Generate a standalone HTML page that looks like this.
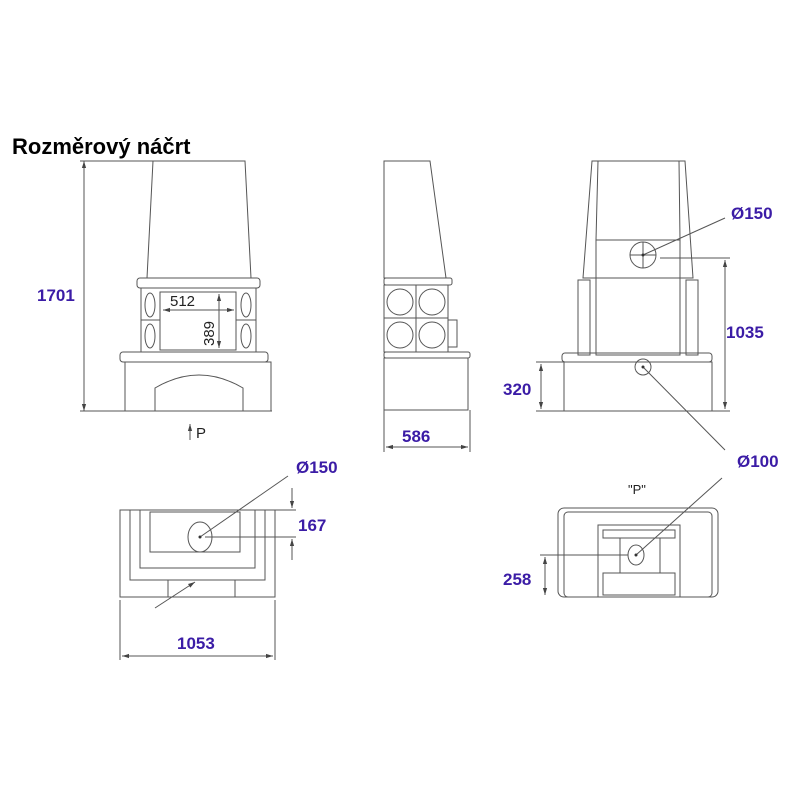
<!DOCTYPE html>
<html><head><meta charset="utf-8"><style>
body{margin:0;background:#fff}
svg{display:block}
.d{font-family:"Liberation Sans",sans-serif;font-weight:bold;font-size:17px;fill:#3b1ca6}
</style></head><body>
<svg width="800" height="800" viewBox="0 0 800 800" xmlns="http://www.w3.org/2000/svg">
<defs>
<marker id="a" viewBox="0 0 10 10" refX="10" refY="5" markerWidth="7" markerHeight="7" orient="auto-start-reverse"><path d="M0,2L10,5L0,8z" fill="#444"/></marker>
</defs>
<rect width="800" height="800" fill="#fff"/>
<text x="12" y="154" font-family="Liberation Sans,sans-serif" font-weight="bold" font-size="22" fill="#000">Rozměrový náčrt</text>
<g fill="none" stroke="#555" stroke-width="1">
<path d="M153,161 L245,161 L251,278 L147,278 Z"/>
<rect x="137" y="278" width="123" height="10" rx="3"/>
<rect x="141" y="288" width="115" height="64"/>
<rect x="160" y="292" width="76" height="58"/>
<line x1="141" y1="320" x2="160" y2="320"/><line x1="236" y1="320" x2="256" y2="320"/>
<ellipse cx="150" cy="305" rx="5" ry="12"/><ellipse cx="150" cy="336" rx="5" ry="12"/>
<ellipse cx="246" cy="305" rx="5" ry="12"/><ellipse cx="246" cy="336" rx="5" ry="12"/>
<rect x="120" y="352" width="148" height="10" rx="3"/>
<rect x="125" y="362" width="146" height="49"/>
<path d="M155,411 L155,388 Q199,362 243,388 L243,411"/>
<line x1="80" y1="411" x2="272" y2="411"/>
<line x1="80" y1="161" x2="153" y2="161"/>
<line x1="84" y1="161" x2="84" y2="411" marker-start="url(#a)" marker-end="url(#a)"/>
<line x1="163" y1="310" x2="234" y2="310" marker-start="url(#a)" marker-end="url(#a)"/>
<line x1="219" y1="294" x2="219" y2="348" marker-start="url(#a)" marker-end="url(#a)"/>
<line x1="190" y1="440" x2="190" y2="424" marker-end="url(#a)"/>
<path d="M384,161 L430,161 L446,278 L384,278 Z"/>
<rect x="384" y="278" width="68" height="7" rx="2"/>
<rect x="384" y="285" width="64" height="67"/>
<line x1="416" y1="285" x2="416" y2="352"/><line x1="384" y1="318" x2="448" y2="318"/>
<circle cx="400" cy="302" r="13"/><circle cx="432" cy="302" r="13"/>
<circle cx="400" cy="335" r="13"/><circle cx="432" cy="335" r="13"/>
<rect x="448" y="320" width="9" height="27"/>
<rect x="384" y="352" width="86" height="6" rx="2"/>
<rect x="384" y="358" width="84" height="52"/>
<line x1="384" y1="410" x2="384" y2="452"/><line x1="470" y1="410" x2="470" y2="452"/>
<line x1="386" y1="447" x2="468" y2="447" marker-start="url(#a)" marker-end="url(#a)"/>
<path d="M592,161 L685,161 L693,278 L583,278 Z"/>
<path d="M598,161 L596,240 L680,240 L679,161"/>
<rect x="596" y="240" width="84" height="115"/>
<circle cx="643" cy="255" r="13"/><line x1="630" y1="255" x2="656" y2="255"/><line x1="643" y1="242" x2="643" y2="268"/>
<rect x="578" y="280" width="12" height="75"/><rect x="686" y="280" width="12" height="75"/>
<rect x="562" y="353" width="150" height="9" rx="3"/>
<rect x="564" y="362" width="148" height="49"/>
<circle cx="643" cy="367" r="8"/>
<line x1="660" y1="258" x2="730" y2="258"/>
<line x1="712" y1="411" x2="730" y2="411"/>
<line x1="725" y1="260" x2="725" y2="409" marker-start="url(#a)" marker-end="url(#a)"/>
<line x1="536" y1="362" x2="564" y2="362"/><line x1="536" y1="411" x2="564" y2="411"/>
<line x1="541" y1="364" x2="541" y2="409" marker-start="url(#a)" marker-end="url(#a)"/>
<line x1="643" y1="255" x2="725" y2="218"/>
<line x1="643" y1="367" x2="725" y2="450"/>
<rect x="120" y="510" width="155" height="87"/>
<path d="M130,510 L130,580 L265,580 L265,510"/>
<path d="M140,510 L140,568 L255,568 L255,510"/>
<rect x="150" y="512" width="90" height="40"/>
<ellipse cx="200" cy="537" rx="12" ry="15"/>
<line x1="168" y1="580" x2="168" y2="597"/><line x1="235" y1="580" x2="235" y2="597"/>
<line x1="200" y1="537" x2="288" y2="476"/>
<line x1="195" y1="582" x2="155" y2="608" marker-start="url(#a)"/>
<line x1="275" y1="510" x2="296" y2="510"/><line x1="205" y1="537" x2="296" y2="537"/>
<line x1="292" y1="488" x2="292" y2="508" marker-end="url(#a)"/>
<line x1="292" y1="560" x2="292" y2="539" marker-end="url(#a)"/>
<line x1="120" y1="600" x2="120" y2="660"/><line x1="275" y1="600" x2="275" y2="660"/>
<line x1="122" y1="656" x2="273" y2="656" marker-start="url(#a)" marker-end="url(#a)"/>
<rect x="558" y="508" width="160" height="89" rx="6"/>
<rect x="564" y="512" width="148" height="85" rx="4"/>
<rect x="598" y="525" width="82" height="72"/>
<rect x="603" y="530" width="72" height="8"/>
<rect x="620" y="538" width="40" height="35"/>
<ellipse cx="636" cy="555" rx="8" ry="10"/>
<rect x="603" y="573" width="72" height="22"/>
<line x1="636" y1="555" x2="722" y2="478"/>
<line x1="540" y1="555" x2="628" y2="555"/>
<line x1="545" y1="557" x2="545" y2="595" marker-start="url(#a)" marker-end="url(#a)"/>
</g>
<g fill="#333"><circle cx="643" cy="255" r="1.5"/><circle cx="643" cy="367" r="1.5"/><circle cx="200" cy="537" r="1.5"/><circle cx="636" cy="555" r="1.5"/></g>
<g font-family="Liberation Sans,sans-serif" font-size="15" fill="#222">
<text x="170" y="306">512</text>
<text transform="translate(214,346) rotate(-90)">389</text>
<text x="196" y="438">P</text>
<text x="628" y="494" font-size="13">"P"</text>
</g>
<text class="d" x="37" y="301">1701</text>
<text class="d" x="402" y="442">586</text>
<text class="d" x="731" y="219">Ø150</text>
<text class="d" x="726" y="338">1035</text>
<text class="d" x="503" y="395">320</text>
<text class="d" x="737" y="467">Ø100</text>
<text class="d" x="296" y="473">Ø150</text>
<text class="d" x="298" y="531">167</text>
<text class="d" x="177" y="649">1053</text>
<text class="d" x="503" y="585">258</text>
</svg>
</body></html>
